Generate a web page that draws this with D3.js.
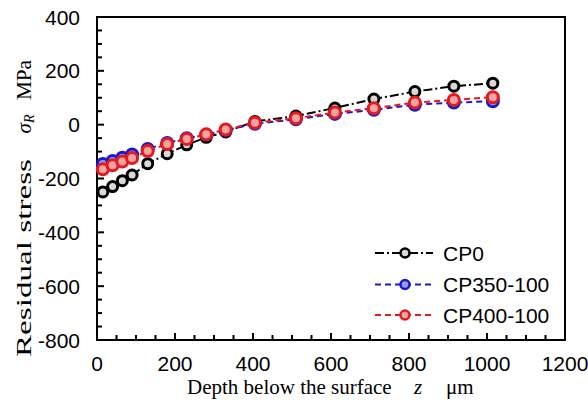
<!DOCTYPE html>
<html>
<head>
<meta charset="utf-8">
<script src="https://cdn.jsdelivr.net/npm/d3@7"></script>
<style>
  body { margin: 0; background: #fff; }
  svg { display: block; }
</style>
</head>
<body>
<div id="chart"></div>
<script>
// depth below surface (um)
const depth = [15, 40, 65, 90, 130, 180, 230, 280, 330, 405, 510, 610, 710, 815, 915, 1015];

// residual stress (MPa)
const cp0 = [-250, -230, -208, -187, -145, -108, -75, -47, -27, 12, 32, 62, 95, 123, 143, 154];
const cp350 = [-146, -135, -123, -111, -90, -68, -50, -37, -21, 3, 20, 40, 55, 74, 82, 87];
const cp400 = [-166, -151, -137, -124, -98, -72, -53, -36, -18, 7, 24, 45, 61, 82, 92, 102];

const seriesNames = ["CP0", "CP350-100", "CP400-100"];
const xTicks = [0, 200, 400, 600, 800, 1000, 1200];
const yTicks = [-800, -600, -400, -200, 0, 200, 400];

const styles = {
    "CP0": {stroke: "#000", fill: "#d9d9d9", dash: "9,3,2,3", r: 5},
    "CP350-100": {stroke: "#1a1acc", fill: "#9a9af0", dash: "6,4", r: 5.5},
    "CP400-100": {stroke: "#e41a1c", fill: "#f5a3a3", dash: "6,4", r: 5.5}
};

const width = 588, height = 409;
const margin = {top: 17, right: 23, bottom: 69, left: 97};
const w = width - margin.left - margin.right;
const h = height - margin.top - margin.bottom;

const sans = "Arial, 'Liberation Sans', sans-serif";
const serif = "'Times New Roman', 'Liberation Serif', serif";

const svg = d3.select("#chart").append("svg")
    .attr("width", width)
    .attr("height", height);

const g = svg.append("g")
    .attr("transform", `translate(${margin.left},${margin.top})`);

const x = d3.scaleLinear().domain([0, 1200]).range([0, w]);
const y = d3.scaleLinear().domain([-800, 400]).range([h, 0]);

// minor ticks every 50, inward
const xMinor = d3.range(0, 1201, 50);
const yMinor = d3.range(-800, 401, 50);

g.selectAll(".xtick")
    .data(xMinor)
    .enter().append("line")
    .attr("x1", d => x(d)).attr("x2", d => x(d))
    .attr("y1", h).attr("y2", d => h - (d % 200 === 0 ? 7 : 5))
    .attr("stroke", "#000").attr("stroke-width", 2);

g.selectAll(".ytick")
    .data(yMinor)
    .enter().append("line")
    .attr("y1", d => y(d)).attr("y2", d => y(d))
    .attr("x1", 0).attr("x2", d => (d % 200 === 0 ? 7 : 5))
    .attr("stroke", "#000").attr("stroke-width", 2);

// frame
g.append("rect")
    .attr("width", w).attr("height", h)
    .attr("fill", "none").attr("stroke", "#000").attr("stroke-width", 2);

// tick labels
g.selectAll(".xlab")
    .data(xTicks)
    .enter().append("text")
    .attr("x", d => x(d)).attr("y", h + 31)
    .attr("text-anchor", "middle")
    .attr("font-family", sans)
    .attr("font-size", 21)
    .text(d => d);

g.selectAll(".ylab")
    .data(yTicks)
    .enter().append("text")
    .attr("x", -17).attr("y", d => y(d) + 7.5)
    .attr("text-anchor", "end")
    .attr("font-family", sans)
    .attr("font-size", 21)
    .text(d => d);

// axis titles
svg.append("text")
    .attr("x", 187).attr("y", 394)
    .attr("font-family", serif).attr("font-size", 21)
    .text("Depth below the surface");
svg.append("text")
    .attr("x", 414).attr("y", 394)
    .attr("font-family", serif).attr("font-size", 21).attr("font-style", "italic")
    .text("z");
svg.append("text")
    .attr("x", 446).attr("y", 394)
    .attr("font-family", serif).attr("font-size", 21)
    .text("\u03bcm");

svg.append("text")
    .attr("transform", "translate(31,357) rotate(-90)")
    .attr("font-family", serif).attr("font-size", 21)
    .attr("textLength", 198).attr("lengthAdjust", "spacingAndGlyphs")
    .text("Residual stress");
const sig = svg.append("text")
    .attr("transform", "translate(31,124) rotate(-90)")
    .attr("text-anchor", "middle")
    .attr("font-family", serif).attr("font-size", 21).attr("font-style", "italic");
sig.append("tspan").text("\u03c3");
sig.append("tspan").attr("font-size", 14).attr("dy", 3).text("R");
svg.append("text")
    .attr("transform", "translate(31,100) rotate(-90)")
    .attr("font-family", serif).attr("font-size", 21)
    .attr("textLength", 40).attr("lengthAdjust", "spacingAndGlyphs")
    .text("MPa");

// series
const data = [cp0, cp350, cp400];
const line = d3.line()
    .x(d => x(d[0]))
    .y(d => y(d[1]));

data.forEach((vals, i) => {
    const st = styles[seriesNames[i]];
    const pts = depth.map((d, j) => [d, vals[j]]);
    g.append("path")
        .datum(pts)
        .attr("d", line)
        .attr("fill", "none")
        .attr("stroke", st.stroke)
        .attr("stroke-width", 2)
        .attr("stroke-dasharray", st.dash);
    g.selectAll(".pt" + i)
        .data(pts)
        .enter().append("circle")
        .attr("cx", d => x(d[0]))
        .attr("cy", d => y(d[1]))
        .attr("r", st.r)
        .attr("fill", st.fill)
        .attr("stroke", st.stroke)
        .attr("stroke-width", 3);
});

// legend
const legend = svg.append("g");
const legendY = [253, 284.5, 315];
seriesNames.forEach((name, i) => {
    const st = styles[name];
    const ly = legendY[i];
    legend.append("line")
        .attr("x1", 375).attr("x2", 433)
        .attr("y1", ly).attr("y2", ly)
        .attr("stroke", st.stroke).attr("stroke-width", 2)
        .attr("stroke-dasharray", st.dash);
    legend.append("circle")
        .attr("cx", 405).attr("cy", ly).attr("r", 4.5)
        .attr("fill", st.fill).attr("stroke", st.stroke).attr("stroke-width", 2.5);
    legend.append("text")
        .attr("x", 443).attr("y", ly + 7.5)
        .attr("font-family", sans)
        .attr("font-size", 21)
        .text(name);
});
</script>
</body>
</html>
